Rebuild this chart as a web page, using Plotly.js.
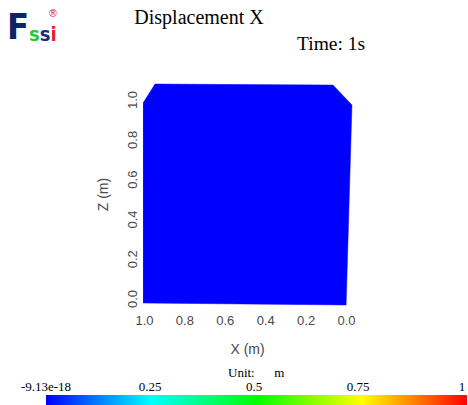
<!DOCTYPE html>
<html>
<head>
<meta charset="utf-8">
<script src="https://cdn.plot.ly/plotly-3.0.1.min.js"></script>
<style>html,body{margin:0;padding:0;background:#fff;}#chart{width:468px;height:405px;}</style>
</head>
<body>
<div id="chart"></div>
<script>
// ---- data ----
const shapeX = [1.007, 0.002, -0.027, 0.067, 0.948, 1.007];   // deformed outline, X (m)
const shapeZ = [-0.010, -0.020, 0.985, 1.085, 1.090, 0.995];  // deformed outline, Z (m)
const dispValue = -9.13e-18;          // displacement X over the whole body (m)
const cbMin = -9.13e-18;
const cbMax = 1;
const cbTickVals = [0, 0.25, 0.5, 0.75, 1];
const cbTickText = ['-9.13e-18', '0.25', '0.5', '0.75', '1'];
const axisTicks = [0, 0.2, 0.4, 0.6, 0.8, 1.0];
const colorStops = [[0, '#0000ff'], [0.25, '#00ffff'], [0.5, '#00ff00'], [0.75, '#ffff00'], [1, '#ff0000']];

// ---- helpers ----
function hexToRgb(h){return [parseInt(h.substr(1,2),16),parseInt(h.substr(3,2),16),parseInt(h.substr(5,2),16)];}
function colorAt(v){
  const t = Math.max(0, Math.min(1, (v - cbMin) / (cbMax - cbMin)));
  for (let i = 1; i < colorStops.length; i++) {
    if (t <= colorStops[i][0]) {
      const a = colorStops[i-1], b = colorStops[i];
      const f = (t - a[0]) / (b[0] - a[0]);
      const ca = hexToRgb(a[1]), cb = hexToRgb(b[1]);
      return 'rgb(' + ca.map((c,k)=>Math.round(c + (cb[k]-c)*f)).join(',') + ')';
    }
  }
  return colorStops[colorStops.length-1][1];
}

const W = 468, H = 405;
const tickFont = {family: 'Liberation Sans, Arial, sans-serif', size: 13, color: '#4a4a4a'};
const serif = 'Liberation Serif, Times New Roman, serif';
const logoFont = 'DejaVu Sans Condensed, Liberation Sans Narrow, Liberation Sans';

const traces = [
  {
    type: 'scatter', mode: 'lines', x: shapeX, y: shapeZ,
    fill: 'toself', fillcolor: colorAt(dispValue),
    line: {color: colorAt(dispValue), width: 0.5},
    hoverinfo: 'skip', showlegend: false
  },
  {
    type: 'scatter', mode: 'markers', x: [0.5], y: [0.5], xaxis: 'x2', yaxis: 'y2',
    marker: {color: [dispValue], coloraxis: 'coloraxis', opacity: 0, size: 1},
    hoverinfo: 'skip', showlegend: false
  }
];

const layout = {
  width: W, height: H, autosize: false,
  margin: {l: 0, r: 0, t: 0, b: 0, pad: 0},
  paper_bgcolor: '#fff', plot_bgcolor: '#fff',
  showlegend: false,
  title: {text: 'Displacement X', x: 199/W, xanchor: 'center', xref: 'paper',
          y: 1 - 17/H, yanchor: 'middle', yref: 'paper',
          font: {family: serif, size: 20, color: '#000'}},
  xaxis: {
    domain: [140.46/W, 354.58/W], range: [1.02, -0.04],
    tickvals: axisTicks, tickformat: '.1f', ticks: '', showgrid: false,
    zeroline: false, showline: false, tickfont: tickFont,
    title: {text: 'X (m)', font: {family: tickFont.family, size: 14, color: '#4a4a4a'}, standoff: 17},
    fixedrange: true
  },
  yaxis: {
    domain: [(H-310.95)/H, (H-78.12)/H], range: [-0.05, 1.12],
    tickvals: axisTicks, tickformat: '.1f', tickangle: -90, ticks: '', showgrid: false,
    zeroline: false, showline: false, tickfont: tickFont,
    title: {text: 'Z (m)', font: {family: tickFont.family, size: 14, color: '#4a4a4a'}, standoff: 12},
    fixedrange: true
  },
  xaxis2: {
    domain: [46/W, 462/W], anchor: 'y2', side: 'top', range: [0, 1],
    tickvals: cbTickVals, ticktext: cbTickText, ticks: '', showgrid: false,
    zeroline: false, showline: false, ticklabeloverflow: 'allow',
    tickfont: {family: serif, size: 13, color: '#000'}, fixedrange: true
  },
  yaxis2: {domain: [0, 10/H], range: [0, 1], visible: false, fixedrange: true},
  coloraxis: {
    cmin: cbMin, cmax: cbMax, colorscale: colorStops, showscale: true,
    colorbar: {
      orientation: 'h', x: 46/W, xanchor: 'left', y: 0, yanchor: 'bottom',
      len: 421/W, lenmode: 'fraction', thickness: 10, thicknessmode: 'pixels',
      outlinewidth: 0, showticklabels: false, ticks: '', xpad: 0, ypad: 0
    }
  },
  annotations: [
    {text: 'Time: 1s', x: 331/W, y: 1 - 43/H, xref: 'paper', yref: 'paper',
     xanchor: 'center', yanchor: 'middle', showarrow: false,
     font: {family: serif, size: 19.5, color: '#000'}},
    {text: 'Unit:\u00a0\u00a0\u00a0\u00a0\u00a0\u00a0m', x: 256/W, y: 1 - 372/H, xref: 'paper', yref: 'paper',
     xanchor: 'center', yanchor: 'middle', showarrow: false,
     font: {family: serif, size: 13, color: '#000'}},
    {text: '<b>F</b>', x: 5/W, y: 1 - 27/H, xref: 'paper', yref: 'paper',
     xanchor: 'left', yanchor: 'middle', showarrow: false,
     font: {family: logoFont, size: 36, color: '#0d2466'}},
    {text: '<b><span style="color:#22cc33">s</span><span style="color:#1a2a7c">s</span><span style="color:#e3222c">i</span></b>',
     x: 27/W, y: 1 - 34/H, xref: 'paper', yref: 'paper',
     xanchor: 'left', yanchor: 'middle', showarrow: false,
     font: {family: logoFont, size: 20, color: '#1a2a7c'}},
    {text: '®', x: 53/W, y: 1 - 13/H, xref: 'paper', yref: 'paper',
     xanchor: 'center', yanchor: 'middle', showarrow: false,
     font: {family: 'DejaVu Sans, Liberation Sans', size: 10, color: '#e3222c'}}
  ]
};

Plotly.newPlot('chart', traces, layout, {displayModeBar: false, staticPlot: true});
</script>
</body>
</html>
